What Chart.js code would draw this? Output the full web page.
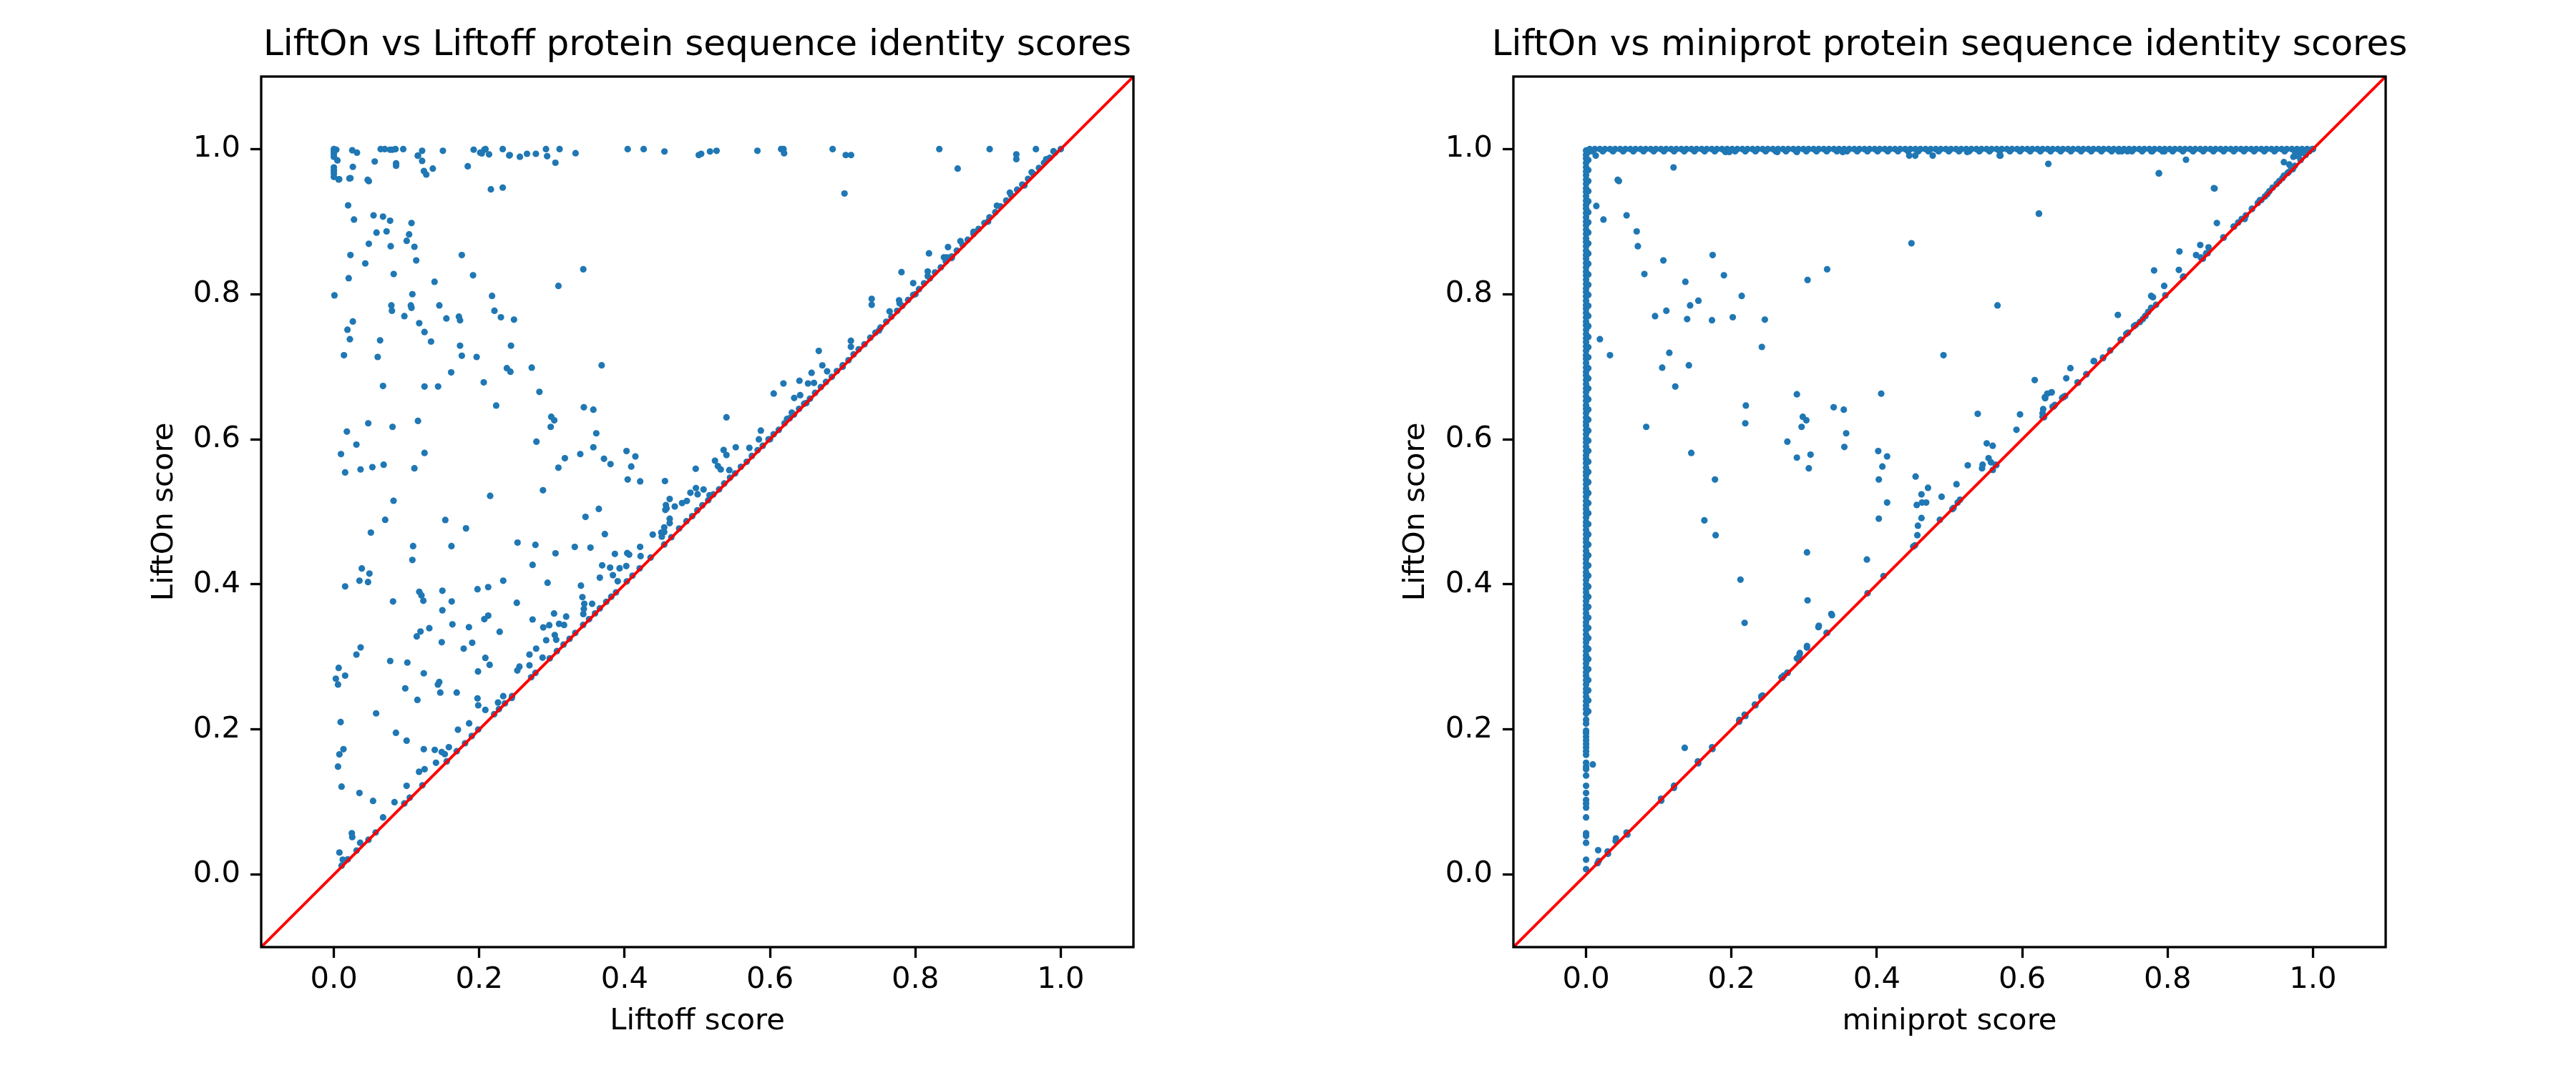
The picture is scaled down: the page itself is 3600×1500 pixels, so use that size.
<!DOCTYPE html>
<html><head><meta charset="utf-8">
<script src="https://cdn.jsdelivr.net/npm/chart.js@4/dist/chart.umd.min.js"></script>
<style>
html,body{margin:0;padding:0;background:#fff;overflow:hidden;}
#wrap{position:relative;width:3600px;height:1500px;background:#fff;}
.c{position:absolute;top:0;height:1500px;}
</style></head><body>
<div id="wrap">
<div class="c" style="left:0;width:1949px"><canvas id="c1" width="1949" height="1500"></canvas></div>
<div class="c" style="left:1849px;width:1751px"><canvas id="c2" width="1751" height="1500"></canvas></div>
</div>
<script>
// ---------- shared axis / text data ----------
const tickValues = [0, 0.2, 0.4, 0.6, 0.8, 1.0];
const axisRange = [-0.1, 1.1];
const diagLine = [-0.1, 1.1];
const titles = ["LiftOn vs Liftoff protein sequence identity scores", "LiftOn vs miniprot protein sequence identity scores"];
const xLabels = ["Liftoff score", "miniprot score"];
const yLabels = ["LiftOn score", "LiftOn score"];

// ---------- left panel: Liftoff (x) vs LiftOn (y) ----------
const liftoffTopRow = [[0,1.0],[0,0.9967],[0,0.9935],[0,0.9894],[0.0033,0.9992],[0.0049,0.9845],[0,0.9747],[0,0.9706],[0,0.9665],[0,0.9616],[0.0073,0.9584],[0.0228,0.96],[0.0261,0.9755],[0.0253,0.9984],[0.0318,0.9951],[0.0562,0.9829],[0.0644,1.0],[0.0701,1.0],[0.0774,0.9992],[0.0807,0.9992],[0.0848,1.0],[0.0856,0.9804],[0.0856,0.9771],[0.0954,1.0],[0.1157,0.991],[0.1214,0.9976],[0.1214,0.9837],[0.1239,0.9698],[0.1271,0.9649],[0.1361,0.9731],[0.15,0.9976],[0.1842,0.9763],[0.1923,0.9992],[0.2013,0.9951],[0.207,0.9992],[0.2086,1.0],[0.2135,0.9927],[0.216,0.9445],[0.2323,1.0],[0.2323,0.9469],[0.242,0.9918],[0.2559,0.9894],[0.2657,0.9935],[0.2779,0.9935],[0.2918,1.0],[0.2934,0.9902],[0.3048,0.9812],[0.3105,1.0],[0.3325,0.9943],[0.4042,1.0],[0.4262,1.0],[0.4548,0.9967],[0.502,0.9918],[0.5053,0.9935],[0.5175,0.9967],[0.5265,0.9976],[0.5827,0.9976],[0.6153,1.0],[0.6186,1.0],[0.6194,0.9943],[0.6862,1.0],[0.7042,0.9918],[0.7115,0.9918],[0.7025,0.9388],[0.8329,1.0],[0.8582,0.9731],[0.9022,1.0],[0.9389,0.9927],[0.9389,0.9861],[0.9658,1.0],[0.0465,0.9576],[0.0481,0.9559],[0.0066,0.958],[0.0214,0.9596],[0.1155,0.9909],[0.2035,0.994],[0.2412,0.9912]];

const liftoffUpper = [[0.0196,0.9224],[0.0277,0.9029],[0.0546,0.9086],[0.0676,0.9069],[0.0774,0.9012],[0.0587,0.8849],[0.0725,0.8865],[0.1068,0.898],[0.1035,0.8824],[0.1002,0.8735],[0.1108,0.8653],[0.0481,0.8694],[0.0782,0.8661],[0.0228,0.8539],[0.0432,0.8424],[0.176,0.8539],[0.1133,0.8465],[0.3431,0.8343],[0.0204,0.822],[0.0823,0.8278],[0.1915,0.8261],[0.3089,0.8114],[0.1385,0.8171],[0.0008,0.7984],[0.2176,0.7976],[0.0791,0.7845],[0.0799,0.7771],[0.1059,0.7845],[0.1068,0.7812],[0.108,0.80],[0.1451,0.7845],[0.2209,0.7771],[0.097,0.7698],[0.0261,0.7624],[0.1174,0.76],[0.1548,0.7665],[0.172,0.769],[0.1736,0.7641],[0.2298,0.7682],[0.2478,0.7649],[0.0187,0.751],[0.1247,0.7478],[0.022,0.738],[0.0636,0.7363],[0.1337,0.7347],[0.2437,0.729],[0.1736,0.729],[0.0139,0.7159],[0.0603,0.7135],[0.176,0.7151],[0.1964,0.7135],[0.2062,0.6784],[0.2722,0.6988],[0.238,0.698],[0.2429,0.6931],[0.1614,0.6922],[0.3684,0.702],[0.0676,0.6735],[0.1247,0.6727],[0.1434,0.6727],[0.2828,0.6653],[0.2233,0.6465],[0.3439,0.6441],[0.357,0.6408],[0.2991,0.631],[0.3032,0.6261],[0.1157,0.6253],[0.0473,0.622],[0.2983,0.6171],[0.0807,0.6171],[0.361,0.6082],[0.0179,0.6106],[0.2787,0.5967],[0.031,0.5927],[0.0098,0.5796],[0.3178,0.5739],[0.339,0.5796],[0.357,0.589],[0.3089,0.5608],[0.3716,0.5731],[0.3806,0.5657],[0.4026,0.5837],[0.4148,0.5763],[0.4091,0.5624],[0.4042,0.5445],[0.4214,0.542],[0.0155,0.5543],[0.0367,0.5584],[0.053,0.5616],[0.0685,0.5649],[0.1108,0.56],[0.1247,0.5812],[0.2877,0.5298]];

const liftoffLower = [[0.0821,0.5153],[0.0706,0.489],[0.0509,0.4714],[0.215,0.522],[0.1533,0.4887],[0.1818,0.4772],[0.109,0.4527],[0.108,0.4336],[0.1618,0.4527],[0.0384,0.4219],[0.0489,0.4149],[0.0352,0.405],[0.047,0.4032],[0.0155,0.3972],[0.0814,0.3764],[0.1175,0.3898],[0.1205,0.3848],[0.1231,0.3774],[0.1493,0.3912],[0.1621,0.3764],[0.1493,0.3643],[0.1976,0.3933],[0.2123,0.3962],[0.233,0.405],[0.2527,0.4576],[0.2773,0.4545],[0.3049,0.4428],[0.3314,0.4516],[0.353,0.4506],[0.3462,0.493],[0.3645,0.504],[0.3728,0.4693],[0.2734,0.4269],[0.294,0.4022],[0.2517,0.3746],[0.3029,0.3598],[0.3196,0.3556],[0.2734,0.3516],[0.2881,0.3407],[0.2963,0.3438],[0.3098,0.3456],[0.3167,0.344],[0.2921,0.323],[0.3039,0.3301],[0.3059,0.3237],[0.3399,0.3983],[0.3419,0.3824],[0.3445,0.3732],[0.3553,0.3732],[0.3439,0.3661],[0.3432,0.359],[0.3659,0.4092],[0.3691,0.4262],[0.38,0.4231],[0.3839,0.4127],[0.3931,0.4222],[0.4023,0.4252],[0.4036,0.4431],[0.4062,0.441],[0.3866,0.442],[0.3905,0.4043],[0.4213,0.4516],[0.422,0.4389],[0.4387,0.4686],[0.4505,0.4714],[0.4545,0.4785],[0.462,0.4905],[0.4568,0.5093],[0.1313,0.3396],[0.1192,0.335],[0.114,0.3283],[0.1484,0.3202],[0.1631,0.3449],[0.1858,0.341],[0.1903,0.3195],[0.1786,0.3114],[0.207,0.352],[0.2123,0.3569],[0.2281,0.3347],[0.2084,0.2987],[0.2143,0.2891],[0.1983,0.2799],[0.0775,0.2944],[0.1011,0.2922],[0.1237,0.2774],[0.145,0.2654],[0.1431,0.2619],[0.1464,0.2509],[0.169,0.2509],[0.0982,0.2566],[0.1149,0.2407],[0.1976,0.2428],[0.1986,0.2333],[0.2084,0.2269],[0.233,0.2459],[0.2258,0.2371],[0.2448,0.2434],[0.2524,0.2813],[0.2553,0.2866],[0.2691,0.2884],[0.2691,0.3032],[0.2783,0.3114],[0.2871,0.299],[0.0368,0.3131],[0.031,0.3032],[0.0066,0.2849],[0.0155,0.2742],[0.0027,0.27],[0.0057,0.2619],[0.0581,0.2222],[0.0093,0.2102],[0.0854,0.1954],[0.1001,0.1845],[0.0132,0.1728],[0.0076,0.1657],[0.0057,0.1488],[0.0106,0.1212],[0.0352,0.1124],[0.0539,0.1015],[0.0677,0.0788],[0.0834,0.0997],[0.1001,0.1223],[0.1237,0.1728],[0.1388,0.1718],[0.1484,0.1689],[0.1526,0.166],[0.1582,0.1756],[0.1405,0.1541],[0.1861,0.2085],[0.1707,0.1997],[0.1172,0.1417],[0.1248,0.1452],[0.0247,0.0569],[0.0253,0.0516],[0.0362,0.0438],[0.0076,0.0304],[0.0122,0.0205]];

const liftoffMid = [[0.4555,0.5424],[0.462,0.5177],[0.4577,0.5047],[0.456,0.5026],[0.469,0.5073],[0.462,0.4844],[0.4512,0.4658],[0.4545,0.4722],[0.479,0.5121],[0.4856,0.515],[0.4905,0.5263],[0.4981,0.5328],[0.5004,0.5242],[0.5086,0.5307],[0.5168,0.5229],[0.4978,0.5593],[0.5243,0.5705],[0.5283,0.5631],[0.5322,0.5584],[0.544,0.5575],[0.5362,0.5852],[0.5401,0.5783],[0.5529,0.589],[0.5716,0.5882],[0.5401,0.6302],[0.5847,0.5999],[0.5874,0.612],[0.6051,0.663],[0.6185,0.6769],[0.6333,0.657],[0.6415,0.6608],[0.6234,0.628],[0.63,0.6367],[0.6405,0.6807],[0.6523,0.6769],[0.6572,0.6916],[0.6605,0.6777],[0.6671,0.7218],[0.672,0.7019],[0.6786,0.6937],[0.7113,0.7357],[0.7113,0.7275],[0.7399,0.7936],[0.7399,0.7854],[0.7645,0.7763],[0.7776,0.7915],[0.7783,0.7875],[0.7809,0.8304],[0.797,0.8152],[0.817,0.8312],[0.8187,0.8563],[0.817,0.8248],[0.8393,0.8507],[0.8433,0.8507],[0.8449,0.8649],[0.862,0.8732],[0.9122,0.922]];

const liftoffDiag = [[0.0106,0.0122],[0.0191,0.021],[0.0312,0.033],[0.0476,0.048],[0.0575,0.058],[0.0969,0.098],[0.1044,0.106],[0.1218,0.123],[0.1553,0.156],[0.169,0.17],[0.1805,0.181],[0.1897,0.191],[0.1986,0.2],[0.2205,0.221],[0.2271,0.228],[0.2353,0.236],[0.2452,0.246],[0.2714,0.272],[0.2773,0.278],[0.297,0.298],[0.3068,0.308],[0.316,0.317],[0.3242,0.325],[0.3321,0.333],[0.3429,0.344],[0.3511,0.352],[0.3593,0.36],[0.3659,0.367],[0.3748,0.376],[0.3816,0.383],[0.3882,0.389],[0.403,0.404],[0.4108,0.412],[0.4207,0.422],[0.4357,0.437],[0.4545,0.455],[0.4643,0.465],[0.475,0.477],[0.485,0.487],[0.493,0.494],[0.5,0.502],[0.507,0.509],[0.515,0.516],[0.522,0.524],[0.53,0.531],[0.537,0.539],[0.545,0.547],[0.552,0.553],[0.56,0.562],[0.568,0.569],[0.575,0.577],[0.583,0.585],[0.59,0.591],[0.598,0.6],[0.605,0.607],[0.612,0.613],[0.62,0.622],[0.627,0.629],[0.633,0.634],[0.64,0.642],[0.647,0.649],[0.655,0.656],[0.662,0.664],[0.67,0.672],[0.677,0.679],[0.685,0.686],[0.692,0.694],[0.7,0.702],[0.708,0.709],[0.715,0.717],[0.722,0.724],[0.73,0.731],[0.738,0.74],[0.745,0.747],[0.752,0.754],[0.76,0.762],[0.767,0.769],[0.775,0.777],[0.782,0.784],[0.79,0.792],[0.797,0.799],[0.805,0.807],[0.812,0.815],[0.82,0.822],[0.827,0.83],[0.835,0.837],[0.842,0.845],[0.85,0.852],[0.857,0.86],[0.865,0.868],[0.872,0.875],[0.88,0.883],[0.887,0.89],[0.895,0.898],[0.902,0.906],[0.91,0.913],[0.917,0.921],[0.925,0.929],[0.932,0.936],[0.94,0.944],[0.947,0.951],[0.955,0.959],[0.962,0.966],[0.97,0.974],[0.977,0.981],[0.985,0.988],[0.992,0.995],[1.0,1.0],[0.6,0.6],[0.65,0.65],[0.7,0.7],[0.75,0.75],[0.8,0.8],[0.85,0.85],[0.9,0.9],[0.95,0.95],[0.88,0.886],[0.93,0.94],[0.96,0.968],[0.98,0.986],[0.99,0.997]];

// ---------- right panel: miniprot (x) vs LiftOn (y) ----------
const miniprotColumnY = [0.0074,0.0205,0.0438,0.0534,0.0569,0.0788,0.0923,0.0976,0.1029,0.1124,0.1223,0.1364,0.1452,0.1488,0.1541,0.165,0.17,0.175,0.18,0.185,0.19,0.195,0.1983,0.2081,0.2135,0.222,0.228,0.233,0.239,0.245,0.251,0.256,0.262,0.268,0.274,0.279,0.285,0.291,0.297,0.302,0.308,0.314,0.32,0.325,0.331,0.337,0.343,0.348,0.354,0.36,0.366,0.371,0.377,0.383,0.389,0.394,0.4,0.406,0.412,0.417,0.423,0.429,0.435,0.44,0.446,0.452,0.458,0.463,0.469,0.475,0.481,0.486,0.492,0.498,0.504,0.509,0.515,0.521,0.527,0.532,0.538,0.544,0.55,0.555,0.561,0.567,0.573,0.578,0.584,0.59,0.596,0.601,0.607,0.613,0.619,0.624,0.63,0.636,0.642,0.647,0.653,0.659,0.665,0.67,0.676,0.682,0.688,0.693,0.699,0.705,0.711,0.716,0.722,0.728,0.734,0.739,0.745,0.751,0.757,0.762,0.768,0.774,0.78,0.785,0.791,0.797,0.803,0.808,0.814,0.82,0.826,0.831,0.837,0.843,0.849,0.854,0.86,0.866,0.872,0.877,0.883,0.889,0.895,0.9,0.906,0.912,0.918,0.923,0.929,0.935,0.941,0.946,0.952,0.958,0.964,0.969,0.975,0.981,0.987,0.992,0.998];
const miniprotColumnY2 = [0.225,0.24,0.254,0.268,0.283,0.297,0.311,0.326,0.34,0.354,0.369,0.383,0.397,0.412,0.426,0.44,0.455,0.469,0.483,0.498,0.512,0.526,0.541,0.555,0.569,0.584,0.598,0.612,0.627,0.641,0.655,0.67,0.684,0.698,0.713,0.727,0.741,0.756,0.77,0.784,0.799,0.813,0.827,0.842,0.856,0.87,0.885,0.899,0.913,0.928,0.942,0.956,0.971,0.985,0.996];

const miniprotTopRowX = [0.005,0.012,0.019,0.026,0.033,0.04,0.047,0.054,0.061,0.068,0.075,0.082,0.089,0.096,0.103,0.11,0.117,0.124,0.131,0.138,0.145,0.152,0.159,0.166,0.173,0.18,0.187,0.194,0.201,0.208,0.215,0.222,0.229,0.236,0.243,0.25,0.257,0.264,0.271,0.278,0.285,0.292,0.299,0.306,0.313,0.32,0.327,0.334,0.341,0.348,0.355,0.362,0.369,0.376,0.383,0.39,0.397,0.404,0.411,0.418,0.425,0.432,0.439,0.446,0.453,0.46,0.467,0.474,0.481,0.488,0.495,0.502,0.509,0.516,0.523,0.53,0.537,0.544,0.551,0.558,0.565,0.572,0.579,0.586,0.593,0.6,0.607,0.614,0.621,0.628,0.635,0.642,0.649,0.656,0.663,0.67,0.677,0.684,0.691,0.698,0.705,0.712,0.719,0.726,0.733,0.74,0.747,0.754,0.761,0.768,0.775,0.782,0.789,0.796,0.803,0.81,0.817,0.824,0.831,0.838,0.845,0.852,0.859,0.866,0.873,0.88,0.887,0.894,0.901,0.908,0.915,0.922,0.929,0.936,0.943,0.95,0.957,0.964,0.971,0.978,0.985,0.992,0.999];
const miniprotTopRowX2 = [0.009,0.023,0.037,0.051,0.065,0.079,0.093,0.107,0.121,0.135,0.149,0.163,0.177,0.191,0.205,0.219,0.233,0.247,0.261,0.275,0.289,0.303,0.317,0.331,0.345,0.359,0.373,0.387,0.401,0.415,0.429,0.443,0.457,0.471,0.485,0.499,0.513,0.527,0.541,0.555,0.569,0.583,0.597,0.611,0.625,0.639,0.653,0.667,0.681,0.695,0.709,0.723,0.737,0.751,0.765,0.779,0.793,0.807,0.821,0.835,0.849,0.863,0.877,0.891,0.905,0.919,0.933,0.947,0.961,0.975,0.989];

const miniprotNearTop = [[0.0133,0.991],[0.192,0.996],[0.197,0.996],[0.263,0.996],[0.29,0.996],[0.353,0.996],[0.4446,0.991],[0.4528,0.991],[0.4769,0.991],[0.5243,0.996],[0.569,0.991],[0.7326,0.997],[0.7448,0.997],[0.7777,0.997],[0.7957,0.997],[0.623,0.911],[0.7881,0.9667],[0.8646,0.9457]];

const miniprotScatter = [[0.1203,0.9747],[0.0435,0.9576],[0.0451,0.956],[0.0141,0.9216],[0.0239,0.9029],[0.0557,0.9086],[0.0696,0.8865],[0.0712,0.8661],[0.1063,0.8465],[0.0802,0.8278],[0.1741,0.8539],[0.1896,0.8261],[0.1366,0.8171],[0.1431,0.7845],[0.1545,0.791],[0.2141,0.7976],[0.0949,0.7698],[0.1104,0.7771],[0.139,0.7657],[0.1732,0.7641],[0.2018,0.7682],[0.2459,0.7649],[0.019,0.738],[0.0329,0.7159],[0.1145,0.7192],[0.1047,0.6988],[0.1414,0.702],[0.1227,0.6727],[0.2418,0.7273],[0.0827,0.6171],[0.2198,0.6465],[0.219,0.622],[0.1447,0.5812],[0.1773,0.5445],[0.1627,0.4882],[0.1782,0.4678],[0.3047,0.8196],[0.3316,0.8343],[0.29,0.662],[0.2981,0.631],[0.303,0.6261],[0.2965,0.6171],[0.2769,0.5967],[0.29,0.5747],[0.3088,0.5788],[0.3064,0.56],[0.3406,0.6441],[0.3545,0.6408],[0.3578,0.6082],[0.3553,0.5894],[0.3039,0.4441],[0.2124,0.4065],[0.2181,0.3469],[0.3047,0.378],[0.3374,0.3592],[0.3202,0.3429],[0.3316,0.3331],[0.3039,0.3151],[0.294,0.3053],[0.2932,0.2988],[0.2769,0.2784],[0.2688,0.2718],[0.3863,0.4343],[0.3872,0.3878],[0.4092,0.4114],[0.406,0.6629],[0.4019,0.5837],[0.4141,0.5763],[0.4076,0.5624],[0.4027,0.5445],[0.4141,0.5127],[0.4027,0.4906],[0.4476,0.8702],[0.4917,0.7159],[0.4533,0.5486],[0.4549,0.5094],[0.4565,0.4808],[0.4557,0.4678],[0.4614,0.5241],[0.4622,0.5127],[0.4679,0.5127],[0.4704,0.5331],[0.4614,0.4914],[0.4525,0.4539],[0.45,0.4522],[0.4891,0.5208],[0.4867,0.489],[0.5096,0.538],[0.5145,0.5167],[0.5112,0.5127],[0.5055,0.5053],[0.5039,0.5037],[0.5251,0.5641],[0.5447,0.56],[0.5455,0.5649],[0.5512,0.5943],[0.5537,0.5739],[0.557,0.5682],[0.5594,0.591],[0.5635,0.5649],[0.5388,0.6351],[0.566,0.7845],[0.57,0.991],[0.5921,0.6131],[0.597,0.6343],[0.6172,0.6816],[0.6229,0.911],[0.6359,0.9796],[0.628,0.6359],[0.6288,0.6416],[0.6312,0.658],[0.6345,0.6629],[0.628,0.631],[0.6402,0.6645],[0.6418,0.6449],[0.645,0.6473],[0.6549,0.6571],[0.659,0.6596],[0.6606,0.6841],[0.6663,0.698],[0.6761,0.6784],[0.6883,0.6898],[0.6989,0.7078],[0.7112,0.7127],[0.721,0.7224],[0.7316,0.7714],[0.7357,0.7371],[0.7431,0.7453],[0.7455,0.7469],[0.7537,0.7559],[0.7561,0.7576],[0.7618,0.7616],[0.7659,0.7657],[0.7692,0.7698],[0.7733,0.7755],[0.7774,0.7812],[0.7774,0.7976],[0.7798,0.7959],[0.7814,0.8327],[0.7879,0.9665],[0.7953,0.8114],[0.7969,0.7984],[0.8163,0.8588],[0.8155,0.8335],[0.8212,0.8237],[0.8253,0.9853],[0.8392,0.8539],[0.8449,0.8678],[0.8457,0.8506],[0.8563,0.8645],[0.853,0.8563],[0.8637,0.9461],[0.8678,0.898],[0.8767,0.8784],[0.8914,0.8931],[0.8971,0.8988],[0.902,0.9037],[0.9061,0.9037],[0.9077,0.9086],[0.916,0.9176],[0.9241,0.9257],[0.929,0.9298],[0.9339,0.9347],[0.9372,0.938],[0.9445,0.9469],[0.9535,0.9559],[0.96,0.9633],[0.9665,0.9682],[0.9722,0.9722],[0.96,0.982],[0.9674,0.9788],[0.9731,0.9894],[0.9804,0.9935],[0.9853,0.996],[0.9918,0.9992]];

const miniprotDiag = [[0.0174,0.0188],[0.0296,0.0318],[0.0411,0.0498],[0.0557,0.058],[0.0166,0.0335],[0.1031,0.1045],[0.121,0.1224],[0.1357,0.1747],[0.1537,0.1559],[0.1733,0.1755],[0.2108,0.2131],[0.2181,0.2204],[0.2321,0.2343],[0.2411,0.2457],[0.0092,0.1518],[0.2721,0.2743],[0.29,0.298],[0.3308,0.3331],[0.2412,0.2443],[0.2429,0.2468],[0.233,0.2333],[0.2192,0.2186],[0.2107,0.2108],[0.1739,0.1731],[0.1543,0.1533],[0.1208,0.1194],[0.1034,0.1018],[0.0568,0.0551],[0.0407,0.0463],[0.0302,0.0286],[0.0158,0.0156],[0.2927,0.2955],[0.2773,0.2779],[0.2701,0.2712],[0.3039,0.313],[0.2937,0.3036],[0.3196,0.341],[0.3383,0.3576],[0.5644,0.5644],[0.5595,0.5578],[0.6569,0.6583],[0.6769,0.678],[0.6884,0.6895],[0.6983,0.7076],[0.7113,0.7118],[0.7356,0.7371],[0.7694,0.77],[0.7842,0.7854],[0.822,0.8242],[0.8485,0.8489],[0.8551,0.8565],[0.8771,0.8778],[0.8908,0.8932],[0.9161,0.9177],[0.9269,0.9295],[0.6431,0.6451],[0.63,0.6303],[0.6405,0.6648],[0.6316,0.6566],[0.94,0.942],[0.95,0.952],[0.958,0.96],[0.965,0.967],[0.975,0.977],[0.983,0.985],[0.99,0.992],[0.995,0.997],[1.0,1.0],[0.97,0.975],[0.98,0.99],[0.985,0.995]];

// ---------- chart building ----------
const FONT = "'DejaVu Sans', 'Liberation Sans', sans-serif";
const toXY = arr => arr.map(p => ({x: p[0], y: p[1]}));

const framePlugin = {
  id: 'frame',
  afterDraw(chart) {
    const {ctx, chartArea: a} = chart;
    ctx.save();
    ctx.strokeStyle = '#000';
    ctx.lineWidth = 3.3;
    ctx.strokeRect(a.left, a.top, a.right - a.left, a.bottom - a.top);
    ctx.restore();
  }
};

function axisOpts(isX, label, cfg) {
  return {
    type: 'linear',
    min: axisRange[0],
    max: axisRange[1],
    afterBuildTicks: s => { s.ticks = tickValues.map(v => ({value: v})); },
    afterFit: s => { if (isX) s.height = 176; else s.width = cfg.yAxisWidth; },
    ticks: {
      color: '#000',
      font: {family: FONT, size: 41.7},
      padding: isX ? 6 : 14,
      autoSkip: false, maxRotation: 0, minRotation: 0,
      callback: v => Number(v).toFixed(1)
    },
    grid: {display: true, drawOnChartArea: false, drawTicks: true, tickLength: 15, tickWidth: 3.3, tickColor: '#000'},
    border: {display: false},
    title: {
      display: true, text: label, color: '#000',
      font: {family: FONT, size: 41.7},
      padding: isX ? {top: 0, bottom: 47} : {top: cfg.yTitlePad, bottom: 0}
    }
  };
}

function makeChart(id, cfg) {
  return new Chart(document.getElementById(id), {
    type: 'scatter',
    data: {
      datasets: [
        {data: diagLine.map(v => ({x: v, y: v})), showLine: true, borderColor: '#ff0000', borderWidth: 4, pointRadius: 0, clip: 0, order: 0},
        {data: toXY(cfg.points), backgroundColor: '#1f77b4', borderColor: '#1f77b4', borderWidth: 0, pointRadius: 4.6, order: 1}
      ]
    },
    options: {
      responsive: false,
      animation: false,
      devicePixelRatio: 1,
      events: [],
      layout: {padding: 0},
      plugins: {
        legend: {display: false},
        tooltip: {enabled: false},
        title: {display: true, text: cfg.title, color: '#000', fullSize: true,
                font: {family: FONT, size: 50, weight: 'normal'}, padding: {top: 34, bottom: 13}}
      },
      scales: {
        x: axisOpts(true, cfg.xLabel, cfg),
        y: axisOpts(false, cfg.yLabel, cfg),
        ySpacer: {
          type: 'linear', position: 'right', display: true,
          ticks: {display: false}, grid: {display: false, drawTicks: false}, border: {display: false},
          afterFit: s => { s.width = cfg.rightPad; }
        }
      }
    },
    plugins: [framePlugin]
  });
}

const leftPoints = [].concat(liftoffTopRow, liftoffUpper, liftoffLower, liftoffMid, liftoffDiag);
const rightPoints = [].concat(
  miniprotColumnY.map(y => [0, y]),
  miniprotColumnY2.map(y => [0.003, y]),
  miniprotTopRowX.map(x => [x, 1.0]),
  miniprotTopRowX2.map(x => [x, 0.997]),
  miniprotNearTop, miniprotScatter, miniprotDiag);

makeChart('c1', {points: leftPoints, title: titles[0], xLabel: xLabels[0], yLabel: yLabels[0], yAxisWidth: 365, rightPad: 365, yTitlePad: 205});
makeChart('c2', {points: rightPoints, title: titles[1], xLabel: xLabels[1], yLabel: yLabels[1], yAxisWidth: 266, rightPad: 266, yTitlePad: 105});
</script>
</body></html>
